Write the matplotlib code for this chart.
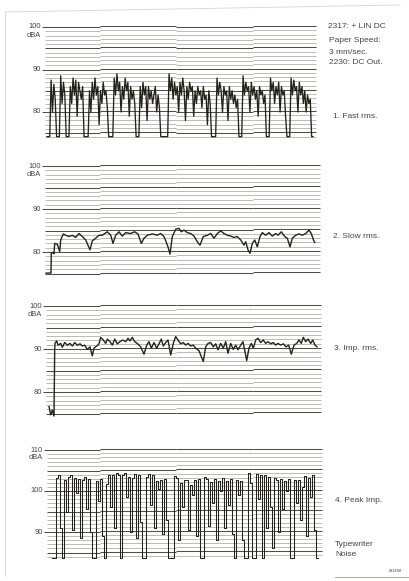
import numpy as np
import matplotlib
matplotlib.use("Agg")
import matplotlib.pyplot as plt
from matplotlib.lines import Line2D

plt.rcParams['font.family'] = ['Liberation Sans', 'DejaVu Sans']

# ---------------- data (dBA, read from the recorder strips) ----------------
F1 = 74.2
fast_db = [F1, F1, F1, 87.5, 80, 86.5, 83, F1, F1, F1, 88.5, 82, 87, 84, F1, F1, F1,
           86, 82, 88, 84, 87.5, 79, 87, 85, 83, 86, F1, F1, F1, F1,
           85, 80, 87, 83, 88, 84, 86, 77, 85, 82, 87, 84, 85, 81, F1, F1, F1, F1,
           88, 84, 89, 85, 87, 80, 86, 83, 88, 85, 87, 79, 86, 83, 85, 82, F1, F1, F1,
           86, 81, 87, 84, 86, 78, 86, 83, 85, 82, 84, 86, 80, 84, 81, F1, F1, F1, F1, F1, F1,
           89, 85, 88, 83, 87, 84, 86, 80, 87, 84, 88, 85, 78, 86, 83, 87, 85, 86, 79, 85,
           82, 86, 84, 85, 81, 86, 83, 84, 77, 85, 82, F1, F1, F1, F1,
           88, 84, 87, 85, 80, 86, 84, 85, 78, 86, 83, 85, 82, 84, 81, 83, F1, F1, F1,
           88.5, 84, 87, 85, 86, 80, 87, 84, 86, 83, 85, 79, 86, 84, 85, 82, 84, F1, F1, F1,
           88, 85, 87, 82, 86, 84, 87, 80, 86, 84, 85, 79, F1, F1, F1,
           88, 84, 87.5, 85, 86, 80, 87, 84, 86, 82, 85, 80, 84, 82, 83, F1, F1]

slow_t = [1, 6, 6.3, 8, 9, 9.7, 12.3, 14.7, 15.7, 18.3, 20.7, 24, 27.3, 30.7, 34, 37.3,
          40.7, 45, 47.3, 50.7, 54, 57.3, 62.3, 65.7, 68, 70.7, 74, 77.3, 80.7, 85.7,
          89.7, 93, 96.3, 99, 102.3, 107.3, 112.3, 115.7, 119, 123, 125, 127.3, 130.7,
          134, 136.3, 139, 142.3, 145.7, 149, 152.3, 155, 158.3, 162.3, 165.7, 169,
          172.3, 175.7, 179, 182.3, 185.7, 189, 192.3, 195.7, 199, 200.7, 203, 205,
          207.3, 209.7, 212.3, 215, 217.3, 220.7, 224, 227.3, 230.7, 233, 236.3, 239.7,
          242.3, 245, 247.3, 250.7, 254, 257.3, 260.7, 264, 266.3, 268.3, 269.7]
slow_db = [75.1, 75.1, 79.7, 79.9, 79.6, 82.0, 81.8, 80.1, 82.8, 84.2, 83.9, 83.6, 83.9,
           83.4, 84.3, 83.6, 82.8, 80.5, 82.6, 83.2, 83.9, 83.9, 84.7, 83.9, 82.0, 83.9,
           84.7, 83.7, 84.5, 84.3, 84.7, 84.2, 82.0, 83.2, 83.9, 84.2, 83.9, 84.3, 83.6,
           81.2, 79.5, 83.6, 85.3, 85.5, 84.7, 85.1, 84.5, 84.3, 83.7, 82.4, 81.6, 83.6,
           83.9, 84.3, 83.2, 84.3, 84.9, 84.3, 83.9, 83.7, 83.4, 83.6, 82.8, 81.6, 82.4,
           80.5, 79.7, 82.0, 82.8, 81.2, 83.6, 84.5, 83.9, 84.5, 83.7, 84.3, 83.9, 84.7,
           83.6, 83.2, 81.2, 83.2, 83.9, 84.2, 83.9, 84.3, 85.1, 84.3, 82.9, 82.2]

imp_t = [4, 5.7, 7.3, 9, 9.7, 10, 11.7, 13, 15.7, 17.3, 19.7, 22.3, 25, 27.3, 29.7, 32.3,
         35, 37.3, 39.7, 42.3, 45, 47.3, 49, 51.7, 54, 55.7, 58.3, 60.7, 62.3, 65, 67.3,
         69.7, 72.3, 75, 77.7, 80.7, 83, 85, 87.3, 89.7, 92.3, 95.7, 99, 101.7, 104,
         106.3, 109, 111.7, 114, 116.3, 118.3, 120.7, 123, 125.7, 128.3, 130.7, 133,
         135.7, 138.3, 140.7, 143, 145.7, 148.3, 150.7, 154, 156.3, 158.3, 160.7, 163,
         165.7, 168.3, 170.7, 173, 175.7, 178.3, 180.7, 183, 185.7, 188.3, 190.7, 193,
         195.7, 198, 200.3, 201.7, 204, 206.3, 208.3, 210.7, 213, 215.7, 218.3, 220.7,
         223, 225.7, 228.3, 230.7, 233, 235.7, 238.3, 241, 243.7, 246.3, 249, 251.7,
         254, 256.3, 258.3, 260.7, 263, 265.7, 267.7, 270, 272]
imp_db = [76.6, 74.7, 75.8, 74.4, 89.8, 91.3, 91.9, 90.9, 91.3, 90.4, 91.5, 90.9, 91.3,
          90.7, 91.5, 90.9, 91.2, 90.7, 90.9, 89.9, 90.5, 88.4, 90.2, 90.7, 91.2, 92.7,
          92.1, 91.3, 92.3, 91.7, 90.9, 92.3, 91.2, 91.7, 92.1, 91.7, 92.5, 91.9, 92.7,
          91.7, 91.3, 90.5, 88.8, 90.9, 91.7, 90.2, 91.5, 90.2, 91.2, 92.3, 90.7, 91.5,
          92.1, 88.6, 91.3, 92.9, 92.1, 91.2, 91.5, 90.9, 91.3, 90.7, 90.9, 90.2, 89.6,
          88.2, 87.1, 90.5, 91.3, 91.5, 90.5, 91.2, 89.8, 91.3, 90.2, 91.7, 89.0, 91.3,
          89.9, 90.9, 89.8, 90.9, 91.7, 89.0, 87.3, 90.2, 91.3, 90.2, 92.1, 92.5, 91.5,
          92.1, 91.3, 91.7, 91.2, 91.5, 90.9, 91.3, 90.9, 91.2, 90.5, 90.9, 88.8, 90.9,
          91.3, 92.1, 91.3, 92.7, 91.7, 92.3, 91.3, 92.1, 90.9, 90.5]

F4 = 83.7
peak_db = [F4, F4, 103.2, 103.8, 91.0, F4, 102.6, 95.0, 103.4, 103.8, 90.5, 103.2,
           99.5, 103.0, 88.5, 102.8, 103.3, 95.5, 102.9, 90.0, F4, F4, 102.5, 97.5,
           103.0, 89.0, F4, 101.8, 103.8, 96.0, 104.0, 91.0, 104.3, 103.8, F4, 104.0,
           104.5, 98.5, 103.5, 90.0, 103.2, 104.2, 88.5, 104.0, 92.5, F4, F4, 103.5,
           104.2, 96.5, 103.8, 91.0, 102.5, 100.5, 102.8, 89.5, 103.0, 93.0, F4, F4, F4,
           103.6, 103.2, 88.0, 102.0, 96.0, 102.8, 102.6, 90.5, 101.5, 99.0, 102.8, 89.0,
           103.0, F4, F4, 103.4, 103.0, 91.5, 102.2, 97.0, 103.0, 88.0, 102.5, 100.0,
           103.2, 91.0, 102.4, 96.5, 103.0, 89.5, F4, 102.8, 99.0, 102.5, 88.0, F4, F4,
           104.5, 102.0, F4, F4, 104.2, 98.0, 104.0, F4, 103.8, 91.0, 103.5, 96.0, 86.0,
           103.2, 102.8, 90.0, 103.0, 95.5, 102.5, 100.0, 103.0, F4, F4, 102.6, 97.0,
           102.8, 93.0, 101.0, 103.6, 89.0, 103.2, 98.5, 103.8, 90.5, F4, F4]

panel_titles = ["1. Fast rms.", "2. Slow rms.", "3. Imp. rms.", "4. Peak Imp."]

# ---------------- layout helpers ----------------
W, H = 409, 581
fig = plt.figure(figsize=(W / 100, H / 100), dpi=100)
fig.patch.set_facecolor('white')

TRACE = '#23231a'
DARK = '#4f4f40'
LIGHT = '#aaaaa2'
TEXT = '#45453f'
AX_X0, AX_X1 = 38, 330          # pixel extent of every axes
T0, T1 = -7, 285                # time units: 1 unit = 1 px offset from x=45
LBL_FS = 5.4


def make_axes(db_a, y_a, db_b, y_b, lo, hi):
    ppd = (y_b - y_a) / (db_a - db_b)
    top_db, bot_db = hi + 1.5, lo - 1.5
    y_top = y_a - (top_db - db_a) * ppd
    y_bot = y_b + (db_b - bot_db) * ppd
    ax = fig.add_axes([AX_X0 / W, 1 - y_bot / H, (AX_X1 - AX_X0) / W, (y_bot - y_top) / H])
    ax.set_xlim(T0, T1)
    ax.set_ylim(bot_db, top_db)
    ax.axis('off')
    return ax


def draw_grid(ax, lo, hi, xs, xe, labels, seg_off):
    bounds = [xs, 55, 131, 208, xe]
    for v in range(lo, hi + 1):
        major = (v % 5 == 0)
        for k in range(4):
            a, b = bounds[k], bounds[k + 1]
            if k == 0 and v in labels:
                a = xs - 3
            ax.hlines(v + seg_off[k], a, b, color=DARK if major else LIGHT,
                      lw=0.75 if major else 0.55, zorder=1)
    for v in labels:
        ax.text(xs - 4, v, str(v), ha='right', va='center', fontsize=LBL_FS, color=TEXT)


panels = [
    dict(ref=(100, 27, 80, 112), lo=74, hi=100, xs=0, xe=271, labels=[100, 90, 80],
         off=[0, 0.2, 0.05, 0.2]),
    dict(ref=(100, 166, 80, 252), lo=75, hi=100, xs=0, xe=275, labels=[100, 90, 80],
         off=[0, 0.15, 0.2, 0.25]),
    dict(ref=(100, 306, 80, 392), lo=75, hi=100, xs=1, xe=276, labels=[100, 90, 80],
         off=[0, 0.15, 0.2, 0.25]),
    dict(ref=(110, 450, 90, 532), lo=84, hi=110, xs=2, xe=277, labels=[110, 100, 90],
         off=[0, 0.2, 0.25, 0.3]),
]

axes = []
for p in panels:
    ax = make_axes(*p['ref'], p['lo'], p['hi'])
    draw_grid(ax, p['lo'], p['hi'], p['xs'], p['xe'], p['labels'], p['off'])
    top = p['labels'][0]
    ax.text(p['xs'] - 4, top - 1.9, "dBA", ha='right', va='center', fontsize=LBL_FS, color=TEXT)
    axes.append(ax)

# traces
t_fast = np.linspace(2, 268, len(fast_db))
axes[0].plot(t_fast, fast_db, color=TRACE, lw=0.95, zorder=3)
axes[1].plot(slow_t, slow_db, color=TRACE, lw=1.0, zorder=3)
axes[2].plot(imp_t, imp_db, color=TRACE, lw=1.0, zorder=3)
t_peak = np.linspace(7, 273, len(peak_db))
axes[3].plot(t_peak, peak_db, color=TRACE, lw=0.75, drawstyle='steps-post', zorder=3)

# ---------------- annotations (pixel positions) ----------------
def ptext(x, y, s, **kw):
    fig.text(x / W, 1 - y / H, s, ha='left', va='center', color=TEXT,
             fontsize=kw.pop('fontsize', 6.0), **kw)

ptext(328, 27, "2317: + LIN DC")
ptext(329, 40, "Paper Speed:")
ptext(329, 52, "3 mm/sec.")
ptext(329, 63, "2230: DC Out.")
ptext(333, 117, panel_titles[0])
ptext(333, 237, panel_titles[1])
ptext(334, 349, panel_titles[2])
ptext(335, 501, panel_titles[3])
ptext(335, 544, "Typewriter")
ptext(335, 554, "Noise")
ptext(389, 571, "831884", fontsize=2.8, style='italic')

# page edges
fig.add_artist(Line2D([5 / W, 5 / W], [1 - 12 / H, 1 - 576 / H], color='#d6d6d0', lw=0.6))
fig.add_artist(Line2D([5 / W, 400 / W], [1 - 12 / H, 1 - 5 / H], color='#d6d6d0', lw=0.6))
fig.add_artist(Line2D([335 / W, 409 / W], [1 - 577 / H, 1 - 577 / H], color='#9a9a90', lw=0.6))

fig.savefig("out.png", dpi=100, facecolor='white')
